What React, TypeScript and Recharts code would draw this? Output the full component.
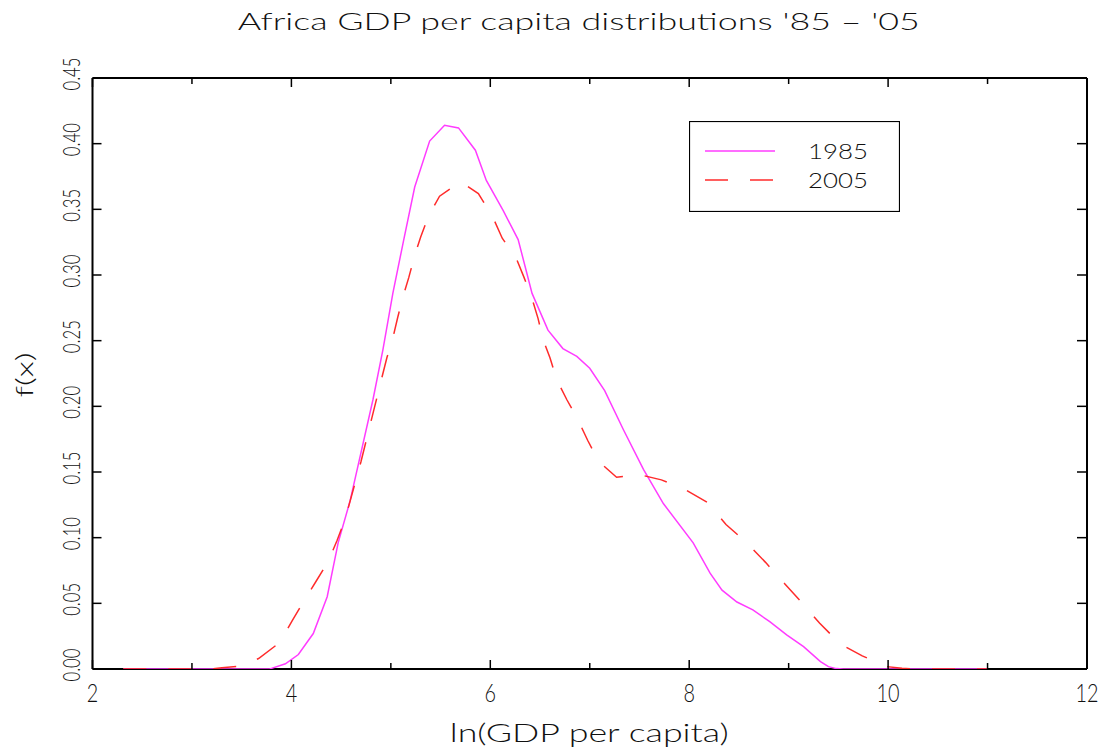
import React from 'react';
import { LineChart, Line, XAxis, YAxis, Legend } from 'recharts';

const chartTitle = "Africa GDP per capita distributions '85 \u2013 '05";
const xAxisTitle = 'ln(GDP per capita)';
const yAxisTitle = 'f(x)';

const xTicks = [2, 3, 4, 5, 6, 7, 8, 9, 10, 11, 12];
const xLabelTicks = [2, 4, 6, 8, 10, 12];
const yTicks = [0, 0.05, 0.1, 0.15, 0.2, 0.25, 0.3, 0.35, 0.4, 0.45];

const seriesNames = ['1985', '2005'];

const x1985 = [2.31, 3.78, 3.8, 3.94, 4.07, 4.22, 4.36, 4.47, 4.59, 4.82, 4.92, 5.02, 5.13, 5.24, 5.39, 5.54, 5.68, 5.85, 5.96, 6.13, 6.28, 6.42, 6.58, 6.73, 6.87, 7.0, 7.15, 7.34, 7.54, 7.74, 8.04, 8.21, 8.33, 8.48, 8.64, 8.81, 8.98, 9.15, 9.32, 9.4, 9.48, 9.55, 11.0];
const y1985 = [0, 0, 0.0005, 0.004, 0.011, 0.027, 0.055, 0.096, 0.128, 0.205, 0.243, 0.286, 0.327, 0.367, 0.402, 0.414, 0.412, 0.395, 0.372, 0.349, 0.327, 0.286, 0.258, 0.244, 0.238, 0.229, 0.212, 0.182, 0.152, 0.126, 0.096, 0.073, 0.06, 0.051, 0.045, 0.036, 0.026, 0.017, 0.0056, 0.0018, 0.0003, 0, 0];

const x2005 = [2.31, 3.2, 3.3, 3.45, 3.55, 3.67, 3.88, 4.01, 4.12, 4.25, 4.37, 4.46, 4.54, 4.7, 4.91, 4.96, 5.02, 5.07, 5.12, 5.18, 5.24, 5.3, 5.38, 5.49, 5.7, 5.88, 6.02, 6.12, 6.26, 6.34, 6.42, 6.48, 6.53, 6.6, 6.67, 6.77, 6.88, 6.98, 7.09, 7.27, 7.5, 7.72, 7.95, 8.18, 8.37, 8.58, 8.77, 8.96, 9.15, 9.31, 9.52, 9.74, 9.99, 10.14, 10.3, 11.0];
const y2005 = [0, 0, 0.001, 0.002, 0.004, 0.008, 0.02, 0.037, 0.051, 0.067, 0.082, 0.098, 0.114, 0.158, 0.222, 0.237, 0.252, 0.268, 0.283, 0.298, 0.315, 0.329, 0.345, 0.36, 0.371, 0.362, 0.345, 0.328, 0.313, 0.298, 0.282, 0.267, 0.251, 0.237, 0.22, 0.205, 0.19, 0.174, 0.158, 0.146, 0.148, 0.144, 0.137, 0.127, 0.11, 0.096, 0.081, 0.065, 0.049, 0.035, 0.019, 0.01, 0.0018, 0.0005, 0, 0];

const data1985 = x1985.map((x, i) => ({ x, y: y1985[i] }));
const data2005 = x2005.map((x, i) => ({ x, y: y2005[i] }));

const FONT = 'Lato, "DejaVu Sans", sans-serif';
const TEXT_STYLE = { fontFamily: FONT, fontWeight: 300, fill: '#111' } as const;
const MAGENTA = '#ff3cff';
const RED = '#ff2b2b';

const BottomTick = (props: any) => {
  const { x, y, payload } = props;
  const v = payload.value;
  const major = xLabelTicks.includes(v);
  const label = String(v);
  return (
    <g>
      <line x1={x} x2={x} y1={y} y2={y - (major ? 9 : 6)} stroke="#000" strokeWidth={1.5} />
      {major && (
        <text x={x} y={y + 33} textAnchor="middle" fontSize={25} textLength={label.length * 11.5} lengthAdjust="spacingAndGlyphs" style={TEXT_STYLE}>
          {label}
        </text>
      )}
    </g>
  );
};

const TopTick = (props: any) => {
  const { x, y, payload } = props;
  const major = xLabelTicks.includes(payload.value);
  return <line x1={x} x2={x} y1={y} y2={y + (major ? 9 : 6)} stroke="#000" strokeWidth={1.5} />;
};

const LeftTick = (props: any) => {
  const { x, y, payload } = props;
  const label = Number(payload.value).toFixed(2);
  const tx = x - 12.5;
  const ty = y - 4;
  return (
    <g>
      <line x1={x} x2={x + 9} y1={y} y2={y} stroke="#000" strokeWidth={1.5} />
      <text x={tx} y={ty} transform={`rotate(-90 ${tx} ${ty})`} textAnchor="middle" fontSize={23} textLength={33} lengthAdjust="spacingAndGlyphs" style={TEXT_STYLE}>
        {label}
      </text>
    </g>
  );
};

const RightTick = (props: any) => {
  const { x, y } = props;
  return <line x1={x} x2={x - 10} y1={y} y2={y} stroke="#000" strokeWidth={1.5} />;
};

const TitleLabel = (props: any) => {
  const vb = props.viewBox || { x: 0, width: 0 };
  const cx = vb.x + vb.width / 2 - 11;
  return (
    <text x={cx} y={30} textAnchor="middle" fontSize={24} textLength={682} lengthAdjust="spacingAndGlyphs" style={TEXT_STYLE}>
      {chartTitle}
    </text>
  );
};

const XTitleLabel = (props: any) => {
  const vb = props.viewBox || { x: 0, width: 0 };
  const cx = vb.x + vb.width / 2 - 0.5;
  return (
    <text x={cx} y={742} textAnchor="middle" fontSize={25} textLength={279} lengthAdjust="spacingAndGlyphs" style={TEXT_STYLE}>
      {xAxisTitle}
    </text>
  );
};

const YTitleLabel = () => {
  const tx = 33;
  const ty = 375;
  return (
    <text x={tx} y={ty} transform={`rotate(-90 ${tx} ${ty})`} textAnchor="middle" fontSize={23} textLength={45} lengthAdjust="spacingAndGlyphs" style={TEXT_STYLE}>
      {yAxisTitle}
    </text>
  );
};

const LegendBox = (props: any) => {
  const payload = props.payload || [];
  return (
    <svg width={211} height={91} style={{ display: 'block' }}>
      <rect x={0.5} y={0.5} width={210} height={90} fill="#fff" stroke="#000" strokeWidth={1.2} />
      {payload.map((p: any, i: number) => {
        const cy = 30 + i * 29;
        const dash = p.payload && p.payload.strokeDasharray;
        return (
          <g key={p.value}>
            <line x1={16} x2={86} y1={cy} y2={cy} stroke={p.color} strokeWidth={1.5} strokeDasharray={dash} />
            <text x={119} y={cy + 8} fontSize={22} textLength={60} lengthAdjust="spacingAndGlyphs" style={TEXT_STYLE}>
              {p.value}
            </text>
          </g>
        );
      })}
    </svg>
  );
};

export default function App() {
  return (
    <div style={{ position: 'absolute', left: 0, top: 0, width: 1105, height: 749, background: '#fff' }}>
      <LineChart width={1105} height={749} margin={{ top: 77, right: 17, bottom: 0, left: 0 }}>
        <XAxis
          dataKey="x"
          type="number"
          domain={[2, 12]}
          ticks={xTicks}
          interval={0}
          allowDataOverflow
          height={80}
          tickSize={0}
          tickMargin={0}
          tickLine={false}
          tick={<BottomTick />}
          axisLine={{ stroke: '#000', strokeWidth: 2 }}
          label={{ content: <XTitleLabel /> }}
        />
        <XAxis
          xAxisId="top"
          orientation="top"
          dataKey="x"
          type="number"
          domain={[2, 12]}
          ticks={xTicks}
          interval={0}
          allowDataOverflow
          height={1}
          tickSize={0}
          tickMargin={0}
          tickLine={false}
          tick={<TopTick />}
          axisLine={{ stroke: '#000', strokeWidth: 2 }}
          label={{ content: <TitleLabel /> }}
        />
        <YAxis
          type="number"
          domain={[0, 0.45]}
          ticks={yTicks}
          interval={0}
          allowDataOverflow
          width={92.5}
          tickSize={0}
          tickMargin={0}
          tickLine={false}
          tick={<LeftTick />}
          axisLine={{ stroke: '#000', strokeWidth: 2 }}
          label={{ content: <YTitleLabel /> }}
        />
        <YAxis
          yAxisId="right"
          orientation="right"
          type="number"
          domain={[0, 0.45]}
          ticks={yTicks}
          interval={0}
          allowDataOverflow
          width={1}
          tickSize={0}
          tickMargin={0}
          tickLine={false}
          tick={<RightTick />}
          axisLine={{ stroke: '#000', strokeWidth: 2 }}
        />
        <Legend
          align="center"
          verticalAlign="middle"
          layout="vertical"
          content={<LegendBox />}
          wrapperStyle={{ left: 689, top: 121, width: 211, height: 91 }}
        />
        <Line
          data={data1985}
          dataKey="y"
          name={seriesNames[0]}
          type="linear"
          stroke={MAGENTA}
          strokeWidth={1.5}
          dot={false}
          activeDot={false}
          isAnimationActive={false}
          zIndex={600}
        />
        <Line
          data={data2005}
          dataKey="y"
          name={seriesNames[1]}
          type="linear"
          stroke={RED}
          strokeWidth={1.5}
          strokeDasharray="23 22"
          dot={false}
          activeDot={false}
          isAnimationActive={false}
          zIndex={610}
        />
      </LineChart>
    </div>
  );
}
